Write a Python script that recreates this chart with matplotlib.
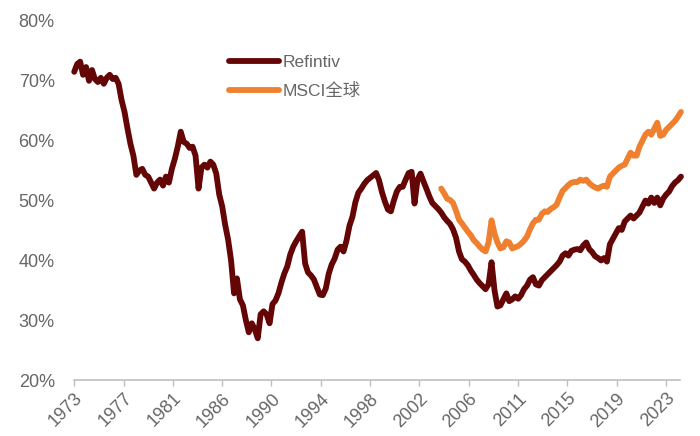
import matplotlib
matplotlib.use("Agg")
import matplotlib.pyplot as plt
import pandas as pd
from matplotlib.ticker import FuncFormatter

plt.rcParams['font.family'] = ['Liberation Sans', 'Noto Sans CJK SC', 'DejaVu Sans']

# quarterly readings, share in %
refinitiv_start = '1973-08-01'
refinitiv = [
    71.5, 72.8, 73.2, 71.0, 72.3, 70.0, 71.8, 70.3, 69.8, 70.5,
    69.5, 70.5, 71.0, 70.3, 70.5, 69.5, 66.8, 64.8, 62.0, 59.5,
    57.5, 54.3, 55.0, 55.3, 54.3, 54.0, 53.0, 52.0, 53.0, 53.5,
    52.5, 54.0, 53.0, 55.3, 57.0, 59.0, 61.5, 59.8, 59.5, 58.8,
    59.0, 57.5, 52.0, 55.5, 56.0, 55.5, 56.5, 56.0, 54.5, 51.0,
    49.0, 46.0, 43.5, 40.0, 34.5, 37.0, 33.5, 32.5, 30.0, 28.0,
    29.5, 28.5, 27.0, 31.0, 31.5, 31.0, 29.5, 32.7, 33.3, 34.5,
    36.3, 37.8, 39.0, 41.0, 42.3, 43.2, 44.0, 44.8, 39.5, 38.0,
    37.5, 36.8, 35.5, 34.3, 34.2, 35.3, 37.8, 39.3, 40.3, 41.8,
    42.3, 41.5, 43.3, 45.8, 47.3, 49.7, 51.3, 52.0, 52.8, 53.4,
    53.8, 54.2, 54.6, 53.4, 51.4, 49.8, 48.5, 48.2, 50.0, 51.5,
    52.3, 52.3, 53.5, 54.6, 54.8, 49.5, 53.5, 54.5, 53.2, 52.0,
    50.7, 49.6, 49.1, 48.6, 48.0, 47.2, 46.6, 46.1, 45.2, 43.8,
    41.5, 40.2, 39.8, 39.2, 38.3, 37.6, 36.8, 36.2, 35.7, 35.2,
    36.0, 39.7, 35.0, 32.3, 32.5, 33.5, 34.5, 33.2, 33.5, 34.0,
    33.6, 34.2, 35.2, 35.8, 36.8, 37.2, 36.0, 35.8, 36.7, 37.2,
    37.7, 38.2, 38.7, 39.2, 39.8, 40.8, 41.2, 40.8, 41.6, 41.8,
    41.9, 41.7, 42.5, 43.0, 41.9, 41.4, 40.7, 40.4, 40.0, 40.4,
    39.8, 42.7, 43.6, 44.5, 45.4, 45.1, 46.5, 47.0, 47.5, 47.0,
    47.5, 48.0, 49.0, 50.0, 49.5, 50.5, 49.6, 50.5, 49.2, 50.3,
    51.0, 51.5, 52.4, 53.0, 53.4, 54.0,
]

msci_start = '2004-08-01'
msci = [
    52.0, 51.2, 50.3, 50.1, 49.6, 48.3,
    46.8, 46.2, 45.5, 44.8, 44.2, 43.4, 42.9, 42.3, 41.8, 41.5,
    43.0, 46.7, 44.5, 43.0, 42.0, 42.2, 43.2, 43.0, 42.0, 42.2,
    42.4, 42.8, 43.3, 44.0, 45.2, 46.2, 46.8, 46.8, 47.8, 48.2,
    48.1, 48.6, 48.9, 49.3, 50.5, 51.6, 52.1, 52.6, 53.0, 53.1,
    53.1, 53.5, 53.3, 53.5, 52.9, 52.5, 52.2, 52.0, 52.3, 52.5,
    52.3, 54.0, 54.5, 55.0, 55.5, 55.8, 56.0, 57.0, 58.0, 57.5,
    57.5, 59.0, 60.0, 61.0, 61.5, 61.0, 62.0, 63.0, 60.8, 61.0,
    61.8, 62.3, 62.8, 63.3, 64.0, 64.8,
]

tick_labels = ['1973', '1977', '1981', '1986', '1990', '1994', '1998',
               '2002', '2006', '2011', '2015', '2019', '2023']

ref_dates = pd.date_range(refinitiv_start, periods=len(refinitiv), freq='3MS')
msci_dates = pd.date_range(msci_start, periods=len(msci), freq='3MS')
tick_dates = pd.date_range(refinitiv_start, periods=len(tick_labels), freq='50MS')

fig = plt.figure(figsize=(7, 4.36), dpi=100)
ax = fig.add_axes([0.106, 0.128, 0.866, 0.824])

ax.plot(ref_dates, refinitiv, color='#640606', lw=4.2, label='Refintiv',
        clip_on=False, solid_capstyle='round', solid_joinstyle='round')
ax.plot(msci_dates, msci, color='#EF8030', lw=4.2, label='MSCI全球',
        clip_on=False, solid_capstyle='round', solid_joinstyle='round')

ax.set_ylim(20, 80)
ax.set_yticks([20, 30, 40, 50, 60, 70, 80])
ax.yaxis.set_major_formatter(FuncFormatter(lambda v, p: '%d%%' % v))
ax.set_xlim(ref_dates[0], pd.Timestamp('2024-10-15'))
ax.set_xticks(tick_dates)
ax.set_xticklabels(tick_labels, rotation=45, ha='right', va='top',
                   rotation_mode='anchor')

for s in ['top', 'right', 'left']:
    ax.spines[s].set_visible(False)
ax.spines['bottom'].set_color('#BFBFBF')
ax.spines['bottom'].set_linewidth(1.2)
ax.tick_params(axis='y', length=0, pad=14, labelsize=13, labelcolor='#666666')
ax.tick_params(axis='x', length=4, width=1, color='#BFBFBF', pad=3,
               labelsize=13, labelcolor='#666666')

leg = ax.legend(loc='upper left', bbox_to_anchor=(0.255, 0.905), frameon=False,
                fontsize=12.5, labelcolor='#666666', borderpad=0, borderaxespad=0,
                handlelength=2.9, handletextpad=0.2, labelspacing=0.75)

fig.savefig('out.png', dpi=100)
